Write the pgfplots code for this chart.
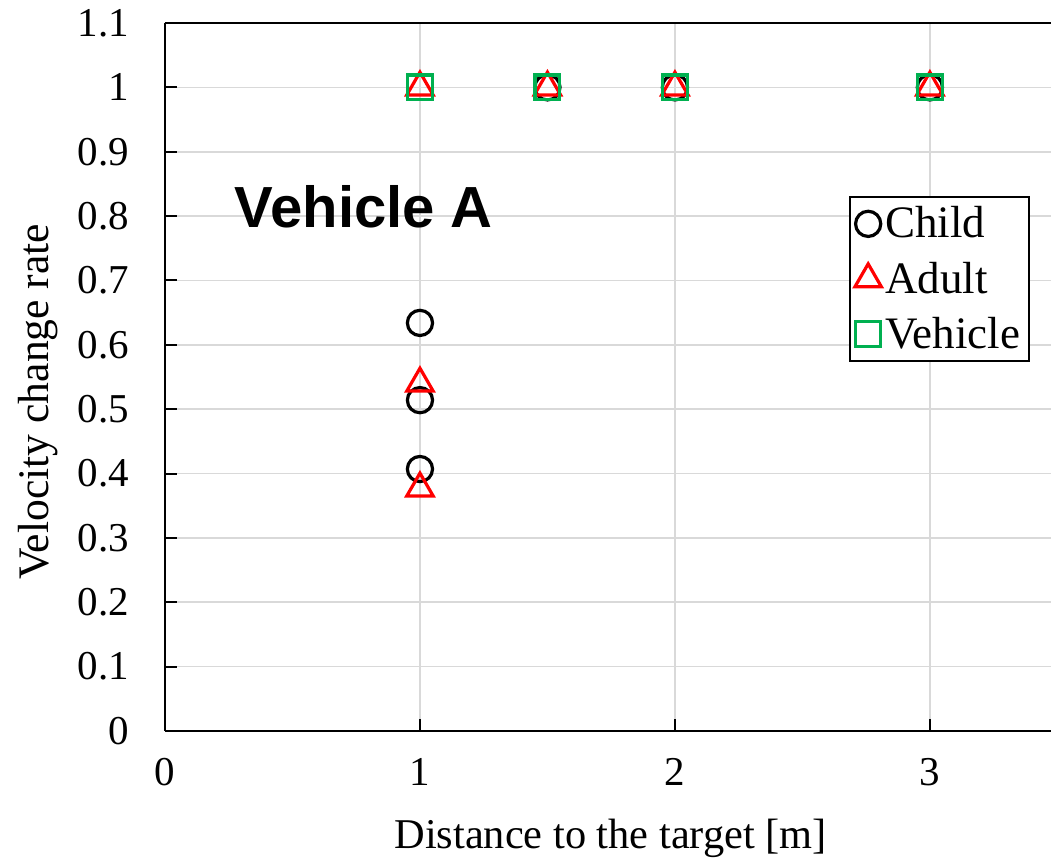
\documentclass[border=0pt]{standalone}
\usepackage{fontspec}
\setmainfont{Liberation Serif}
\newfontfamily\arialbold{Liberation Sans}
\usepackage{pgfplots}
\pgfplotsset{compat=1.18}
\definecolor{xlgreen}{RGB}{0,176,80}
\definecolor{gridgray}{RGB}{217,217,217}
\begin{document}
\begin{tikzpicture}
\begin{axis}[
  scale only axis,
  width=443pt, height=354pt,
  xmin=0, xmax=3.475, ymin=0, ymax=1.1,
  xtick={0,1,2,3}, ytick={0,0.1,...,1.1},
  yticklabels={0,0.1,0.2,0.3,0.4,0.5,0.6,0.7,0.8,0.9,1,1.1},
  /pgf/number format/assume math mode=true,
  grid=major,
  major grid style={gridgray, line width=0.8pt},
  axis lines=left,
  axis line style={black, line width=1.3pt, -},
  tick style={black, line width=1pt},
  major tick length=6pt,
  tick align=inside,
  ticklabel style={font=\fontsize{20.5}{24}\selectfont},
  xticklabel style={yshift=-10pt},
  yticklabel style={xshift=-14.5pt},
  xlabel={Distance to the target [m]},
  ylabel={Velocity change rate},
  label style={font=\fontsize{21.2}{25}\selectfont},
  ylabel style={font=\fontsize{21.8}{26}\selectfont},
  xlabel style={at={(axis description cs:0.503,-0.151)}, anchor=center},
  ylabel style={at={(axis description cs:-0.1433,0.465)}, anchor=center, rotate=0},
  legend style={at={(axis description cs:0.772,0.756)}, anchor=north west,
    draw=black, line width=1pt, font=\fontsize{22.5}{26}\selectfont,
    row sep=6.5pt, inner xsep=2.5pt, inner ysep=3pt},
  legend cell align=left,
  clip=false,
]
\addplot[only marks, mark=o, mark size=6.3pt, mark options={line width=1.6pt, draw=black, fill=none}]
  coordinates {(1,0.634) (1,0.514) (1,0.407) (1.5,1) (2,1) (3,1)};
\addlegendentry{Child}
\addplot[only marks, mark=triangle, mark size=7.6pt, mark options={line width=1.6pt, draw=red, fill=none}]
  coordinates {(1,0.54) (1,0.377) (1,1) (1.5,1) (2,1) (3,1)};
\addlegendentry{Adult}
\addplot[only marks, mark=square, mark size=6.2pt, mark options={line width=1.6pt, draw=xlgreen, fill=none}]
  coordinates {(1,1) (1.5,1) (2,1) (3,1)};
\addlegendentry{Vehicle}
\node[font=\arialbold\bfseries\fontsize{29}{33}\selectfont] at (axis cs:0.78,0.815) {Vehicle A};
\draw[black, line width=1.3pt] (rel axis cs:0,1) -- (rel axis cs:1,1);
\end{axis}
\pgfresetboundingbox
\path[use as bounding box] (-82.5pt,-64.5pt) rectangle (443pt,365.5pt);
\end{tikzpicture}
\end{document}
